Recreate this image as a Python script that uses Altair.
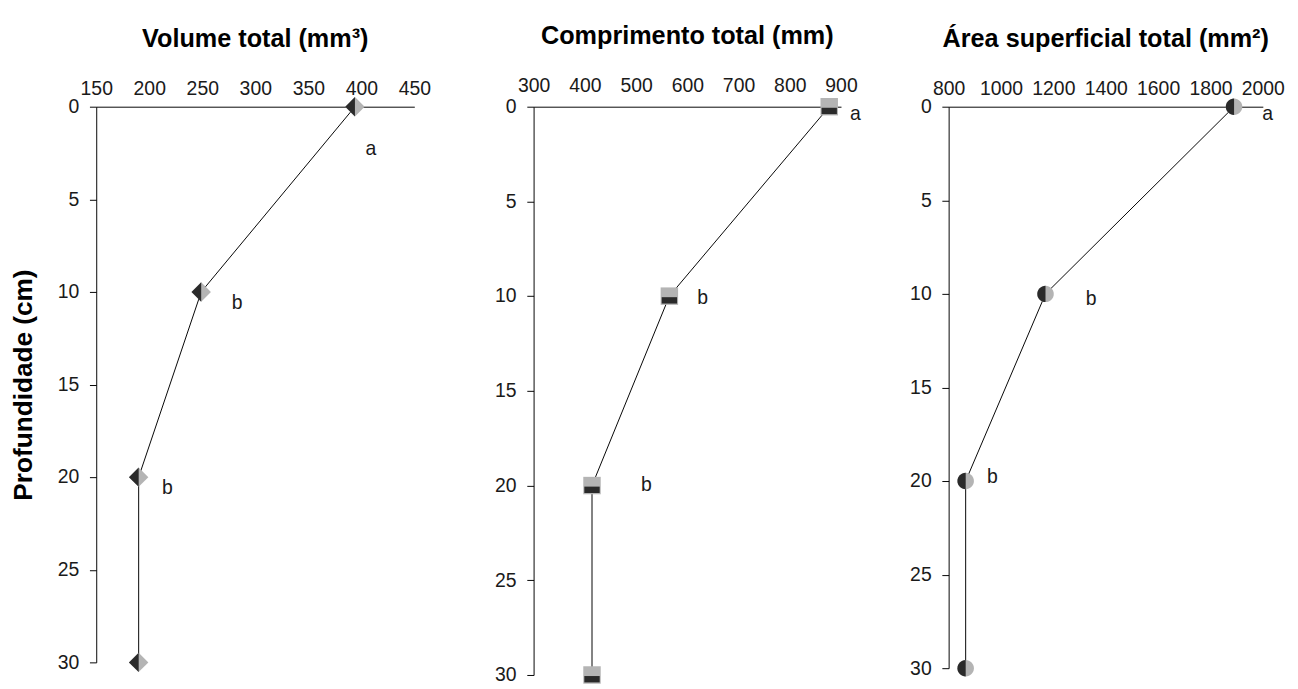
import altair as alt
import pandas as pd

# ---- data ----
depth = [0, 10, 20, 30]
volume = [394, 249, 190, 190]
comprimento = [877, 565, 414, 414]
area = [1890, 1170, 865, 865]

letters = ["a", "b", "b"]
vol_letter_x = [409, 283, 217]
vol_letter_depth = [2.3, 10.6, 20.6]
comp_letter_x = [928, 630, 520]
comp_letter_depth = [0.4, 10.1, 20.0]
area_letter_x = [2018, 1344, 967]
area_letter_depth = [0.4, 10.3, 19.8]

vol_ticks = [150, 200, 250, 300, 350, 400, 450]
comp_ticks = [300, 400, 500, 600, 700, 800, 900]
area_ticks = [800, 1000, 1200, 1400, 1600, 1800, 2000]
depth_ticks = [0, 5, 10, 15, 20, 25, 30]

FONT = "Liberation Sans"
DARK = "#2a2a2a"
GRAY = "#b4b4b4"
LABEL_SIZE = 20

DIAMOND_FULL = "M0,-1L1,0L0,1L-1,0Z"
DIAMOND_HALF = "M0,-1L0,1L-1,0Z"
SQUARE_FULL = "M-1,-1L1,-1L1,1L-1,1Z"
SQUARE_HALF = "M-0.88,0.12L0.88,0.12L0.88,0.85L-0.88,0.85Z"
CIRCLE_FULL = "M0,-1A1,1,0,0,1,0,1A1,1,0,0,1,0,-1Z"
CIRCLE_HALF = "M0,-1A1,1,0,0,0,0,1Z"


def panel(values, lx, ld, ticks, title, full_shape, half_shape, size,
          width, height, first=False, extra_left=None, top_pad=9):
    df = pd.DataFrame({"v": values, "d": depth})
    ldf = pd.DataFrame({"v": lx, "d": ld, "t": letters})
    xscale = alt.Scale(domain=[ticks[0], ticks[-1]], nice=False, zero=False)
    yscale = alt.Scale(domain=[0, 30], reverse=True, nice=False, zero=False)
    xaxis = alt.Axis(orient="top", values=ticks, ticks=False, tickSize=0,
                     grid=False, domainColor="black", domainWidth=1,
                     format="d", labelFont=FONT, labelFontSize=LABEL_SIZE,
                     labelColor="#1a1a1a", labelPadding=top_pad,
                     labelFlush=False, title=None)
    common = dict(values=depth_ticks, grid=False, domainColor="black",
                  tickColor="black", tickSize=7, labelFont=FONT,
                  labelFontSize=LABEL_SIZE, labelColor="#1a1a1a",
                  labelPadding=11)
    if first:
        yaxis = alt.Axis(title="Profundidade (cm)", titleFont=FONT,
                         titleFontSize=27, titleFontWeight="bold",
                         titleColor="black", titlePadding=21, **common)
    elif extra_left is not None:
        yaxis = alt.Axis(title=".", titleFontSize=extra_left[0],
                         titlePadding=extra_left[1], titleOpacity=0, **common)
    else:
        yaxis = alt.Axis(title=None, **common)
    base = alt.Chart(df)
    x = alt.X("v:Q", scale=xscale, axis=xaxis)
    y = alt.Y("d:Q", scale=yscale, axis=yaxis)
    line = base.mark_line(color="black", strokeWidth=1).encode(
        x=x, y=y, order=alt.Order("d:Q"))
    full = base.mark_point(shape=full_shape, filled=True, color=GRAY,
                           opacity=1, size=size, strokeWidth=0).encode(x=x, y=y)
    half = base.mark_point(shape=half_shape, filled=True, color=DARK,
                           opacity=1, size=size, strokeWidth=0).encode(x=x, y=y)
    text = alt.Chart(ldf).mark_text(font=FONT, fontSize=LABEL_SIZE,
                                    color="#1a1a1a", align="center",
                                    baseline="middle").encode(
        x=alt.X("v:Q", scale=xscale), y=alt.Y("d:Q", scale=yscale), text="t:N")
    return alt.layer(line, full, half, text).properties(
        width=width, height=height,
        title=alt.TitleParams(title, font=FONT, fontSize=26, fontWeight="bold",
                              color="black", anchor="middle", frame="group",
                              offset=28))


p1 = panel(volume, vol_letter_x, vol_letter_depth, vol_ticks,
           "Volume total (mm³)", DIAMOND_FULL, DIAMOND_HALF, 400, 328, 573,
           first=True)
p2 = panel(comprimento, comp_letter_x, comp_letter_depth, comp_ticks,
           "Comprimento total (mm)", SQUARE_FULL, SQUARE_HALF, 324, 317, 586,
           extra_left=(12, 10), top_pad=12)
p3 = panel(area, area_letter_x, area_letter_depth, area_ticks,
           "Área superficial total (mm²)", CIRCLE_FULL, CIRCLE_HALF, 289, 324, 579,
           extra_left=(4, 3))

chart = alt.hconcat(p1, p2, p3, spacing=42).properties(
    padding={"left": 1, "top": 5, "right": 5, "bottom": 5},
    background="white"
).configure_view(strokeWidth=0, stroke="transparent")

chart.save("out.html", embed_options={"renderer": "svg", "actions": False})
